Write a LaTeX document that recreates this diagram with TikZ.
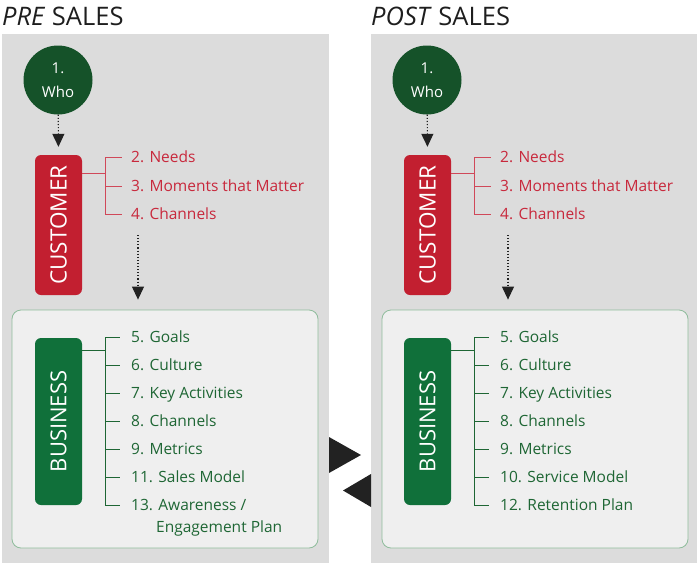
\documentclass[tikz,border=0pt]{standalone}
\usepackage{fontspec}
\setmainfont{Open Sans}
\usetikzlibrary{arrows.meta,positioning,calc}
\definecolor{panelgray}{HTML}{DCDCDC}
\definecolor{innergray}{HTML}{EFEFEF}
\definecolor{panelrim}{HTML}{8FBC9C}
\definecolor{whogreen}{HTML}{155229}
\definecolor{custred}{HTML}{C21F30}
\definecolor{busgreen}{HTML}{10703A}
\definecolor{redtext}{HTML}{C8283C}
\definecolor{greentext}{HTML}{1E6634}
\definecolor{titlegray}{HTML}{1E1E1E}
\definecolor{tipgray}{HTML}{222222}
\begin{document}
\begin{tikzpicture}[x=1pt,y=-1pt,>={Triangle[width=12pt,length=13pt]},
 title/.style={anchor=base west,inner sep=0,font=\fontsize{25.5}{30}\selectfont,text=titlegray},
 who/.style={circle,fill=whogreen,minimum size=69pt,inner sep=0,text=white,align=center,font=\fontsize{15}{24}\selectfont},
 custbox/.style={rotate=90,rounded corners=6pt,fill=custred,minimum width=140pt,minimum height=47pt,text=white,font=\fontsize{22.5}{26}\selectfont},
 busbox/.style={rotate=90,rounded corners=6pt,fill=busgreen,minimum width=167pt,minimum height=47pt,text=white,font=\fontsize{22}{26}\selectfont},
 buspanel/.style={draw=panelrim,fill=innergray,rounded corners=9pt,minimum width=306pt,minimum height=238pt,line width=0.8pt},
 reditem/.style={anchor=west,inner sep=0,text height=11.5pt,text depth=0pt,text=redtext,font=\fontsize{15.5}{18}\selectfont},
 greenitem/.style={anchor=west,inner sep=0,text height=11.5pt,text depth=0pt,text=greentext,font=\fontsize{15.5}{18}\selectfont},
 redline/.style={draw=redtext!85,line width=0.9pt},
 greenline/.style={draw=greentext,line width=0.9pt},
 flow/.style={->,dotted,line width=1.1pt,tipgray},
]
\useasboundingbox (0,0) rectangle (699,565);

% pre sales
\fill[panelgray] (2,34) rectangle (329,563);
\node[title] (preT) at (2,25) {\textit{PRE} SALES};
\node[who] (whoA) at (58,80) {1.\\Who};
\node[custbox] (custA) at (58.5,225) {CUSTOMER};
\node[reditem] (nA2) at (131,157) {2. Needs};
\node[reditem] (nA3) at (131,186) {3. Moments that Matter};
\node[reditem] (nA4) at (131,214) {4. Channels};
\coordinate (jA) at (105,173);
\draw[redline] (custA.south |- jA) -- (jA);
\draw[redline] (jA |- nA2.west) -- (jA |- nA4.west);
\draw[redline] (jA |- nA2.west) -- ([xshift=-9pt]nA2.west);
\draw[redline] (jA |- nA3.west) -- ([xshift=-9pt]nA3.west);
\draw[redline] (jA |- nA4.west) -- ([xshift=-9pt]nA4.west);
\draw[flow,shorten >=8pt] (whoA) -- (custA.east);

\node[buspanel] (panA) at (165,429) {};
\coordinate (arrA) at (138,235);
\draw[flow,shorten >=10pt] (arrA) -- (arrA |- panA.north);
\node[busbox] (busA) at (58.5,421.5) {BUSINESS};
\node[greenitem] (nA5) at (131,337) {5. Goals};
\node[greenitem] (nA6) at (131,365) {6. Culture};
\node[greenitem] (nA7) at (131,393) {7. Key Activities};
\node[greenitem] (nA8) at (131,421) {8. Channels};
\node[greenitem] (nA9) at (131,449) {9. Metrics};
\node[greenitem] (nA11) at (131,477) {11. Sales Model};
\node[greenitem] (nA13) at (131,505) {13. Awareness /};
\node[greenitem] (nA13b) at (156,527) {Engagement Plan};
\coordinate (jB) at (105,350);
\draw[greenline] (busA.south |- jB) -- (jB);
\draw[greenline] (jB |- nA5.west) -- (jB |- nA13.west);
\draw[greenline] (jB |- nA5.west) -- ([xshift=-11pt]nA5.west);
\draw[greenline] (jB |- nA6.west) -- ([xshift=-11pt]nA6.west);
\draw[greenline] (jB |- nA7.west) -- ([xshift=-11pt]nA7.west);
\draw[greenline] (jB |- nA8.west) -- ([xshift=-11pt]nA8.west);
\draw[greenline] (jB |- nA9.west) -- ([xshift=-11pt]nA9.west);
\draw[greenline] (jB |- nA11.west) -- ([xshift=-11pt]nA11.west);
\draw[greenline] (jB |- nA13.west) -- ([xshift=-11pt]nA13.west);

% post sales
\fill[panelgray] (371,34) rectangle (697,563);
\node[title] (postT) at (371,25) {\textit{POST} SALES};
\node[who] (whoB) at (427,80) {1.\\Who};
\node[custbox] (custB) at (427.5,225) {CUSTOMER};
\node[reditem] (nB2) at (500,157) {2. Needs};
\node[reditem] (nB3) at (500,186) {3. Moments that Matter};
\node[reditem] (nB4) at (500,214) {4. Channels};
\coordinate (jC) at (474,173);
\draw[redline] (custB.south |- jC) -- (jC);
\draw[redline] (jC |- nB2.west) -- (jC |- nB4.west);
\draw[redline] (jC |- nB2.west) -- ([xshift=-9pt]nB2.west);
\draw[redline] (jC |- nB3.west) -- ([xshift=-9pt]nB3.west);
\draw[redline] (jC |- nB4.west) -- ([xshift=-9pt]nB4.west);
\draw[flow,shorten >=8pt] (whoB) -- (custB.east);

\node[buspanel] (panB) at (535,429) {};
\coordinate (arrB) at (508,235);
\draw[flow,shorten >=10pt] (arrB) -- (arrB |- panB.north);
\node[busbox] (busB) at (427.5,421.5) {BUSINESS};
\node[greenitem] (nB5) at (500,337) {5. Goals};
\node[greenitem] (nB6) at (500,365) {6. Culture};
\node[greenitem] (nB7) at (500,393) {7. Key Activities};
\node[greenitem] (nB8) at (500,421) {8. Channels};
\node[greenitem] (nB9) at (500,449) {9. Metrics};
\node[greenitem] (nB10) at (500,477) {10. Service Model};
\node[greenitem] (nB12) at (500,505) {12. Retention Plan};
\coordinate (jD) at (474,350);
\draw[greenline] (busB.south |- jD) -- (jD);
\draw[greenline] (jD |- nB5.west) -- (jD |- nB12.west);
\draw[greenline] (jD |- nB5.west) -- ([xshift=-11pt]nB5.west);
\draw[greenline] (jD |- nB6.west) -- ([xshift=-11pt]nB6.west);
\draw[greenline] (jD |- nB7.west) -- ([xshift=-11pt]nB7.west);
\draw[greenline] (jD |- nB8.west) -- ([xshift=-11pt]nB8.west);
\draw[greenline] (jD |- nB9.west) -- ([xshift=-11pt]nB9.west);
\draw[greenline] (jD |- nB10.west) -- ([xshift=-11pt]nB10.west);
\draw[greenline] (jD |- nB12.west) -- ([xshift=-11pt]nB12.west);

% exchange arrows
\fill[tipgray] (329,437) -- (361,455) -- (329,473) -- cycle;
\fill[tipgray] (371,474) -- (343,490.5) -- (371,507) -- cycle;
\end{tikzpicture}
\end{document}
